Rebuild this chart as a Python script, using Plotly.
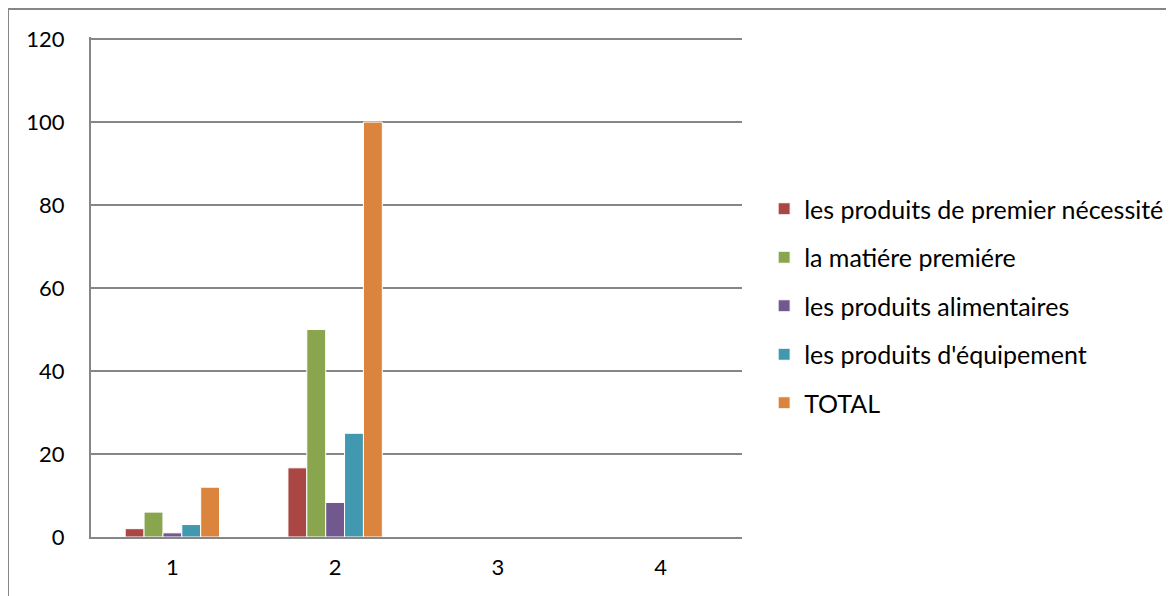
import plotly.graph_objects as go

categories = ["1", "2", "3", "4"]
series_names = [
    "les produits de premier nécessité",
    "la matiére premiére",
    "les produits alimentaires",
    "les produits d'équipement",
    "TOTAL",
]
premier = [2, 16.67, None, None]
matiere = [6, 50, None, None]
alimentaires = [1, 8.33, None, None]
equipement = [3, 25, None, None]
total = [12, 100, None, None]
colors = ["#AA4643", "#89A54E", "#71588F", "#4198AF", "#DB843D"]
y_ticks = [0, 20, 40, 60, 80, 100, 120]

all_values = [premier, matiere, alimentaires, equipement, total]

fig = go.Figure()
for i, (name, vals) in enumerate(zip(series_names, all_values)):
    fig.add_trace(go.Bar(
        x=categories, y=vals, name=name,
        marker=dict(color=colors[i], line=dict(color="white", width=1)),
        legendgroup=f"g{i}",
    ))

# The page body adds an 8px margin; figure is sized/margined to compensate.
W, H = 1166, 588
L, T = 83, 29
PW, PH = 651, 500
font_family = "Lato, 'Open Sans', sans-serif"
fig.update_layout(
    width=W, height=H,
    margin=dict(l=L, r=W - L - PW, t=T, b=H - T - PH, autoexpand=False),
    paper_bgcolor="white", plot_bgcolor="white",
    barmode="group", bargap=0.42, bargroupgap=0,
    font=dict(family=font_family, size=22, color="#000000"),
    showlegend=True,
    legend=dict(
        x=1.034, y=0.462, xanchor="left", yanchor="middle",
        font=dict(size=25, family=font_family),
        tracegroupgap=13, itemwidth=30,
        bgcolor="rgba(0,0,0,0)",
    ),
    xaxis=dict(
        showline=True, linecolor="#868686", linewidth=2,
        showgrid=False, ticks="", tickfont=dict(size=22),
        ticklabelstandoff=10,
    ),
    yaxis=dict(
        range=[0, 120.5], tickvals=y_ticks,
        showline=True, linecolor="#868686", linewidth=2,
        showgrid=True, gridcolor="#868686", gridwidth=1.5,
        zeroline=False, ticks="", tickfont=dict(size=22),
        ticklabelstandoff=20,
    ),
    shapes=[
        dict(type="line", xref="paper", yref="paper",
             x0=(0 - L) / PW, x1=(W - L) / PW,
             y0=1 + (T - 1) / PH, y1=1 + (T - 1) / PH,
             line=dict(color="#868686", width=2)),
        dict(type="line", xref="paper", yref="paper",
             x0=(0 - L) / PW, x1=(0 - L) / PW,
             y0=1 + (T - 1) / PH, y1=1 - (H - T + 5) / PH,
             line=dict(color="#868686", width=2)),
    ],
)

fig.write_html("out.html")
